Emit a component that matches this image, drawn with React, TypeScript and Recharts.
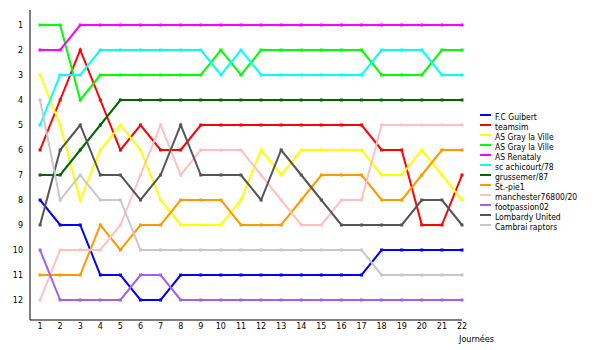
import { LineChart, Line, XAxis, YAxis, Legend } from "recharts";

const days = [1, 2, 3, 4, 5, 6, 7, 8, 9, 10, 11, 12, 13, 14, 15, 16, 17, 18, 19, 20, 21, 22];
const rankTicks = [1, 2, 3, 4, 5, 6, 7, 8, 9, 10, 11, 12];

const fcGuibert = [8, 9, 9, 11, 11, 12, 12, 11, 11, 11, 11, 11, 11, 11, 11, 11, 11, 10, 10, 10, 10, 10];
const teamsim = [6, 4, 2, 4, 6, 5, 6, 6, 5, 5, 5, 5, 5, 5, 5, 5, 5, 6, 6, 9, 9, 7];
const asGray1 = [3, 5, 8, 6, 5, 6, 8, 9, 9, 9, 8, 6, 7, 6, 6, 6, 6, 7, 7, 6, 7, 8];
const asGray2 = [1, 1, 4, 3, 3, 3, 3, 3, 3, 2, 3, 2, 2, 2, 2, 2, 2, 3, 3, 3, 2, 2];
const asRenataly = [2, 2, 1, 1, 1, 1, 1, 1, 1, 1, 1, 1, 1, 1, 1, 1, 1, 1, 1, 1, 1, 1];
const achicourt = [5, 3, 3, 2, 2, 2, 2, 2, 2, 3, 2, 3, 3, 3, 3, 3, 3, 2, 2, 2, 3, 3];
const grussemer = [7, 7, 6, 5, 4, 4, 4, 4, 4, 4, 4, 4, 4, 4, 4, 4, 4, 4, 4, 4, 4, 4];
const stPie = [11, 11, 11, 9, 10, 9, 9, 8, 8, 8, 9, 9, 9, 8, 7, 7, 7, 8, 8, 7, 6, 6];
const manchester = [12, 10, 10, 10, 9, 7, 5, 7, 6, 6, 6, 7, 8, 9, 9, 8, 8, 5, 5, 5, 5, 5];
const footpassion = [10, 12, 12, 12, 12, 11, 11, 12, 12, 12, 12, 12, 12, 12, 12, 12, 12, 12, 12, 12, 12, 12];
const lombardy = [9, 6, 5, 7, 7, 8, 7, 5, 7, 7, 7, 8, 6, 7, 8, 9, 9, 9, 9, 8, 8, 9];
const cambrai = [4, 8, 7, 8, 8, 10, 10, 10, 10, 10, 10, 10, 10, 10, 10, 10, 10, 11, 11, 11, 11, 11];

const series = [
  { name: "F.C Guibert", color: "#0000ff", values: fcGuibert },
  { name: "teamsim", color: "#ff0000", values: teamsim },
  { name: "AS Gray la Ville", color: "#ffff00", values: asGray1 },
  { name: "AS Gray la Ville", color: "#00ff00", values: asGray2 },
  { name: "AS Renataly", color: "#ff00ff", values: asRenataly },
  { name: "sc achicourt/78", color: "#00ffff", values: achicourt },
  { name: "grussemer/87", color: "#006600", values: grussemer },
  { name: "St.-pie1", color: "#ff9900", values: stPie },
  { name: "manchester76800/20", color: "#ffc0c0", values: manchester },
  { name: "footpassion02", color: "#a060f0", values: footpassion },
  { name: "Lombardy United", color: "#555555", values: lombardy },
  { name: "Cambrai raptors", color: "#c8c8c8", values: cambrai },
];

const data = days.map((d, i) => {
  const row: any = { day: d };
  series.forEach((s, j) => {
    row["s" + j] = s.values[i];
  });
  return row;
});

const font = "'DejaVu Sans', sans-serif";
const legendFont = "'DejaVu Sans Condensed', 'Liberation Sans Narrow', 'DejaVu Sans', sans-serif";

function LegendBox() {
  return (
    <div style={{ fontFamily: legendFont, fontSize: 8.5, color: "#000" }}>
      {series.map((s, i) => (
        <div key={i} style={{ display: "flex", alignItems: "flex-start", height: 10, lineHeight: "10px" }}>
          <div style={{ width: 11, height: 2, background: s.color, marginTop: 2, marginRight: 4 }} />
          <span style={{ whiteSpace: "nowrap" }}>{s.name}</span>
        </div>
      ))}
    </div>
  );
}

export default function App() {
  return (
    <div style={{ position: "absolute", left: 0, top: 0, background: "#fff" }}>
      <LineChart width={600} height={350} data={data} margin={{ top: 10, right: 138, bottom: 0, left: 0 }}>
        <XAxis
          dataKey="day"
          type="number"
          domain={[0.5, 22]}
          ticks={days}
          tickLine={false}
          tickSize={0}
          tickMargin={3}
          height={30}
          stroke="#000"
          tick={{ fill: "#000", fontSize: 8, fontFamily: font }}
          label={{ value: "Journées", position: "insideBottomRight", offset: 8, dx: 40, style: { fill: "#000", fontSize: 9, fontFamily: legendFont } }}
        />
        <YAxis
          type="number"
          domain={[0.4, 12.8]}
          reversed
          ticks={rankTicks}
          tickLine={false}
          tickSize={0}
          tickMargin={7}
          width={30}
          stroke="#000"
          tick={{ fill: "#000", fontSize: 8, fontFamily: font }}
          allowDataOverflow
        />
        <Legend
          layout="vertical"
          align="center"
          verticalAlign="middle"
          content={() => <LegendBox />}
          wrapperStyle={{ left: 480, top: 112, width: 120 }}
        />
        {series.map((s, j) => (
          <Line
            key={j}
            dataKey={"s" + j}
            name={s.name}
            type="linear"
            stroke={s.color}
            strokeWidth={2}
            isAnimationActive={false}
            dot={(p: any) => (
              <rect key={p.key ?? p.index} x={p.cx - 1.5} y={p.cy - 1.5} width={3} height={3} fill={s.color} />
            )}
            activeDot={false}
          />
        ))}
      </LineChart>
    </div>
  );
}
